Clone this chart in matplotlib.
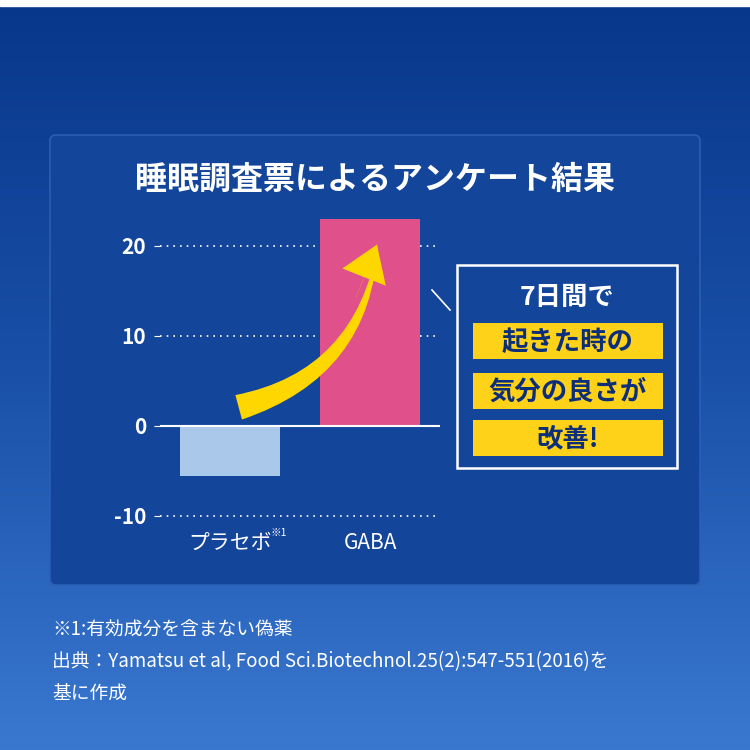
import numpy as np
import matplotlib
matplotlib.use("Agg")
import matplotlib.pyplot as plt
from matplotlib.patches import FancyBboxPatch, Rectangle, FancyArrowPatch
from matplotlib.colors import LinearSegmentedColormap

plt.rcParams['font.family'] = ['Noto Sans CJK JP', 'DejaVu Sans']

categories = ["プラセボ", "GABA"]
values = [-5.6, 23.0]
bar_colors = ["#a9c8ea", "#e0508a"]
yticks = [-10, 0, 10, 20]

fig = plt.figure(figsize=(7.5, 7.5), dpi=100)
bg = fig.add_axes([0, 0, 1, 1], zorder=-10)
grad = np.linspace(0, 1, 256)[:, None]
cm = LinearSegmentedColormap.from_list("bg", ["#07378a", "#1a50a8", "#3a78d0"])
bg.imshow(grad, aspect='auto', cmap=cm, extent=[0, 1, 0, 1], origin='upper')
bg.set_xlim(0, 1); bg.set_ylim(0, 1); bg.axis('off')
bg.add_patch(Rectangle((0, 0.992), 1, 0.008, color='white'))
bg.add_patch(FancyBboxPatch((50/750, 1-585/750), 650/750, 450/750,
             boxstyle="round,pad=0,rounding_size=0.008", fc="#13459a", ec="#2a5fb4", lw=1.2))
fig.text(375/750, 1-180/750, "睡眠調査票によるアンケート結果", color='white', fontsize=23,
         ha='center', va='center', weight='bold')

ax = fig.add_axes([160/750, 1-520.5/750, 280/750, 310.5/750])
ax.set_xlim(-0.5, 1.5); ax.set_ylim(-10.5, 24)
ax.patch.set_alpha(0)
for s in ax.spines.values(): s.set_visible(False)
for t in [-10, 10, 20]:
    ax.axhline(t, color='white', ls=(0, (1, 3)), lw=1.2, zorder=1)
ax.axhline(0, color='white', lw=1.5, zorder=3)
for i, (v, c) in enumerate(zip(values, bar_colors)):
    ax.bar(i, v, width=0.714, color=c, zorder=2)
ax.set_yticks(yticks)
ax.set_yticklabels([str(t) for t in yticks], color='white', fontsize=15, weight='bold')
ax.tick_params(axis='y', length=4, color='white', pad=6)
ax.set_xticks([0, 1])
ax.set_xticklabels(categories, color='white', fontsize=15)
ax.tick_params(axis='x', length=0, pad=8)
fig.text(271/750, 1-536/750, "※1", color='white', fontsize=7.5)

arr = FancyArrowPatch((236/750, 1-408/750), (378/750, 1-242/750), transform=fig.transFigure,
                      connectionstyle="arc3,rad=0.35",
                      arrowstyle="wedge,tail_width=1.3,shrink_factor=0.5",
                      mutation_scale=14, fc="#ffd700", ec="none", zorder=5)
fig.add_artist(arr)
arr2 = FancyArrowPatch((355/750, 1-300/750), (378/750, 1-242/750), transform=fig.transFigure,
                       arrowstyle="simple,head_width=2.4,head_length=1.8,tail_width=0.01",
                       mutation_scale=14, fc="#ffd700", ec="none", zorder=5)
fig.add_artist(arr2)

bg.add_patch(Rectangle((457/750, 1-468/750), 220/750, 203/750, fc="#13459a", ec='white', lw=1.8))
bg.plot([432/750, 450/750], [1-290/750, 1-310/750], color='white', lw=1.2)
fig.text(567/750, 1-297/750, "7日間で", color='white', fontsize=19, ha='center', va='center', weight='bold')
for yc, txt in [(341, "起きた時の"), (391, "気分の良さが"), (438, "改善!")]:
    bg.add_patch(Rectangle((473/750, 1-(yc+18)/750), 190/750, 36/750, fc="#ffd21a", ec='none'))
    fig.text(568/750, 1-(yc+1)/750, txt, color='#0d2f7a', fontsize=19, ha='center', va='center', weight='bold')

fig.text(52/750, 1-630/750, "※1:有効成分を含まない偽薬", color='white', fontsize=13.5, va='center')
fig.text(52/750, 1-662/750, "出典：Yamatsu et al, Food Sci.Biotechnol.25(2):547-551(2016)を",
         color='white', fontsize=13.5, va='center')
fig.text(52/750, 1-693/750, "基に作成", color='white', fontsize=13.5, va='center')

fig.savefig("out.png", dpi=100)
